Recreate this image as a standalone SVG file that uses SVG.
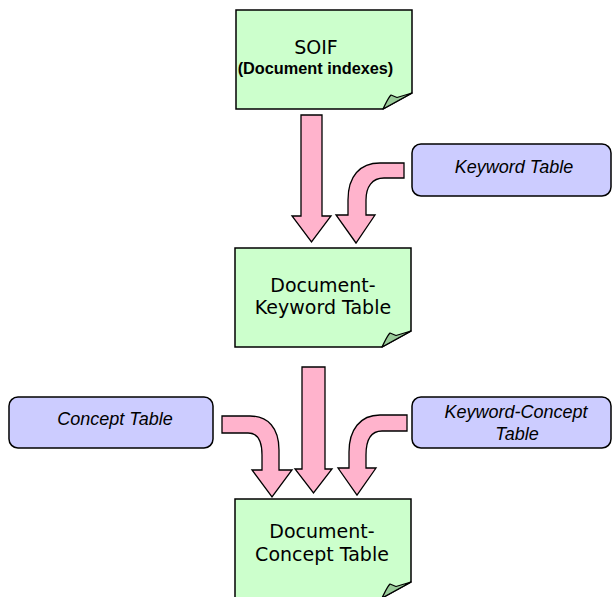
<svg xmlns="http://www.w3.org/2000/svg" width="612" height="597" viewBox="0 0 612 597">
  <style>
    .doc { fill: #CCFFCC; stroke: #000; stroke-width: 1.5; stroke-linejoin: miter; }
    .fold { fill: #99CC99; stroke: #000; stroke-width: 1.2; stroke-linejoin: round; }
    .tbl { fill: #CCCCFF; stroke: #000; stroke-width: 1.5; }
    .arrow { fill: #FFB3CC; stroke: #000; stroke-width: 1.3; stroke-linejoin: miter; }
    .dt { font-family: "DejaVu Sans", Verdana, sans-serif; font-size: 19px; fill: #000; text-anchor: middle; }
    .bt { font-family: "Liberation Sans", Arial, sans-serif; font-size: 16.3px; font-weight: bold; fill: #000; text-anchor: middle; }
    .it { font-family: "Liberation Sans", Arial, sans-serif; font-size: 18px; font-style: italic; fill: #000; text-anchor: middle; }
  </style>
  <defs>
    <path id="docshape" d="M0,0 H176 V83 L147,99 H0 Z"/>
    <path id="foldshape" d="M147,99 C150,93 152,88 155,85 L161,87.5 L176,83 Z"/>
  </defs>

  <g id="connectors">
    <path class="arrow" d="M301,115 H322 V216 H331 L311.5,242 L292,216 H301 Z"/>
    <path class="arrow" d="M404,163 H380 C360,163 348,176 348,200 V215 H336 L356,243 L375,215 H366 V200 C366,187 372,178 384,178 H404 Z"/>
    <path class="arrow" d="M302,367 H325 V469 H332 L313.5,493 L295,469 H302 Z"/>
    <path class="arrow" d="M222,416 H250 C268,416 279,428 279,450 V470 H292 L272,497 L252,470 H262 V455 C262,440 257,433 248,433 H222 Z"/>
    <path class="arrow" d="M407,415 H380 C360,415 349,430 349,452 V468 H338 L357,495 L376,468 H366 V455 C366,440 371,431 382,431 H407 Z"/>
  </g>

  <g id="soif" transform="translate(236,10)">
    <use href="#docshape" class="doc"/>
    <use href="#foldshape" class="fold"/>
    <text class="dt" x="80" y="44">SOIF</text>
    <text class="bt" x="79.5" y="63.5">(Document indexes)</text>
  </g>

  <g id="keyword-table">
    <rect class="tbl" x="412" y="144" width="199" height="52" rx="9" ry="9"/>
    <text class="it" x="514" y="173">Keyword Table</text>
  </g>

  <g id="document-keyword-table" transform="translate(235,248)">
    <use href="#docshape" class="doc"/>
    <use href="#foldshape" class="fold"/>
    <text class="dt" x="88" y="44">Document-</text>
    <text class="dt" x="88" y="66">Keyword Table</text>
  </g>

  <g id="concept-table">
    <rect class="tbl" x="9" y="397" width="204" height="51" rx="9" ry="9"/>
    <text class="it" x="115" y="425">Concept Table</text>
  </g>

  <g id="keyword-concept-table">
    <rect class="tbl" x="412" y="397" width="199" height="51" rx="9" ry="9"/>
    <text class="it" x="516" y="418">Keyword-Concept</text>
    <text class="it" x="517" y="440">Table</text>
  </g>

  <g id="document-concept-table" transform="translate(235,499)">
    <use href="#docshape" class="doc"/>
    <use href="#foldshape" class="fold"/>
    <text class="dt" x="87" y="39">Document-</text>
    <text class="dt" x="87" y="62">Concept Table</text>
  </g>
</svg>
